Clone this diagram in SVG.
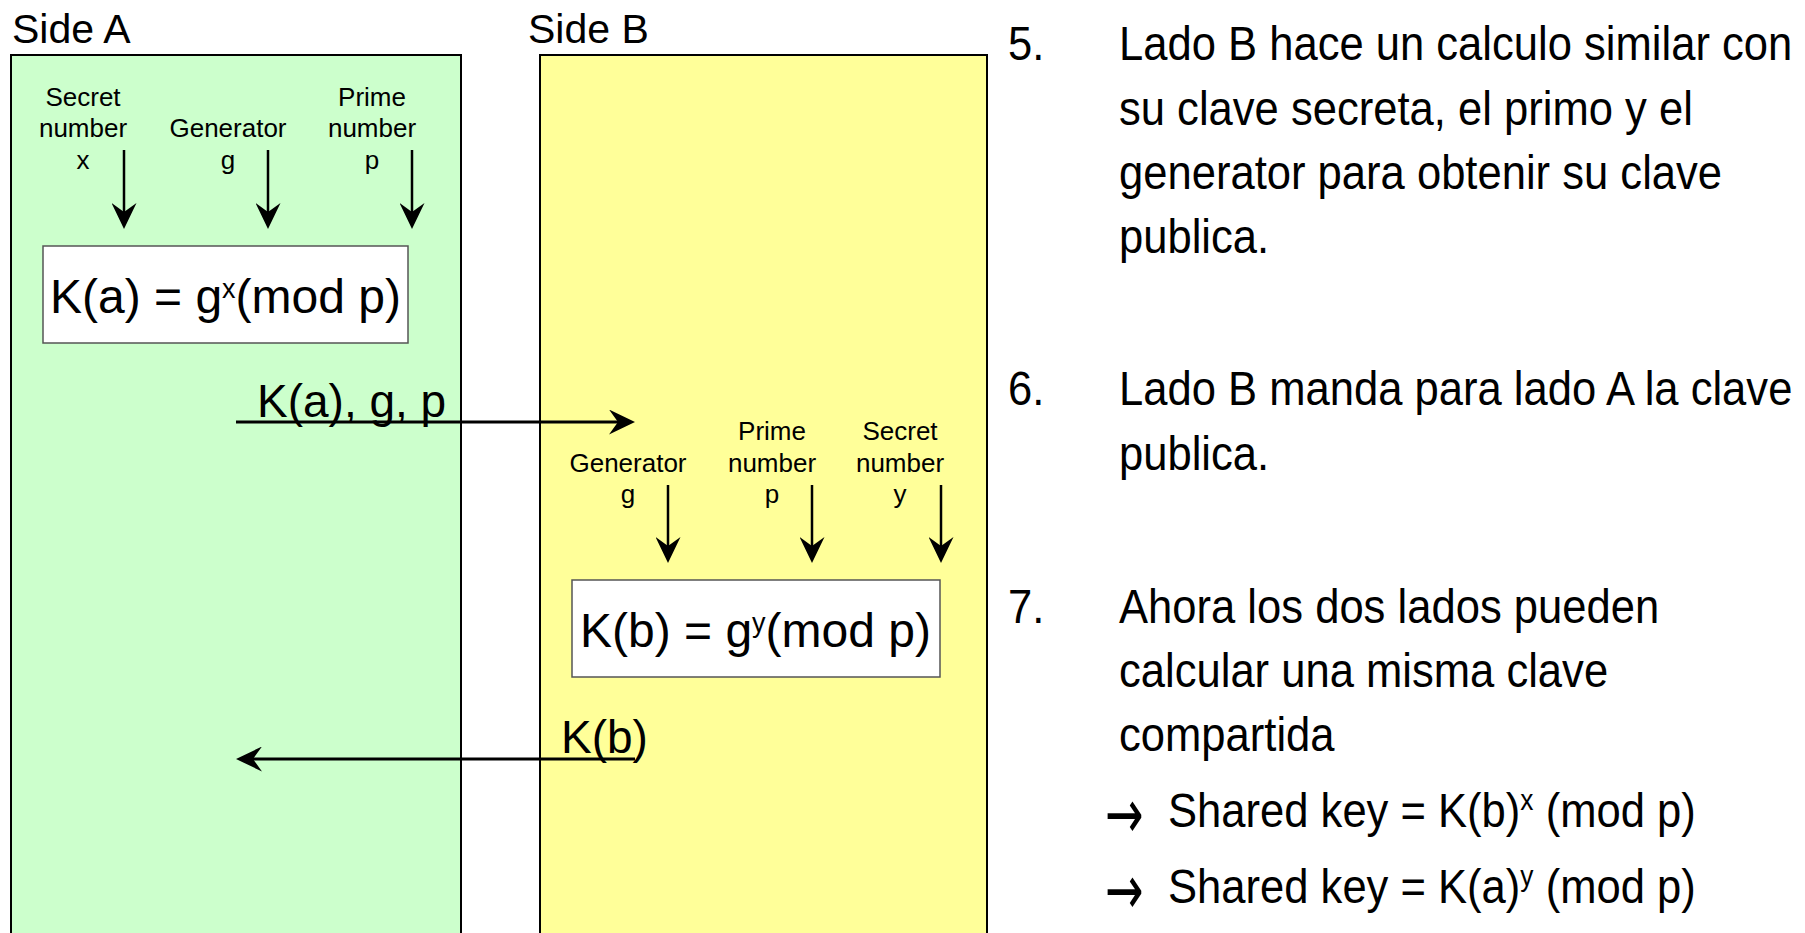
<svg xmlns="http://www.w3.org/2000/svg" width="1805" height="933" viewBox="0 0 1805 933">
<style>
text{font-family:"Liberation Sans",Arial,sans-serif;fill:#000}
.title{font-size:41px}
.lbl{font-size:26px;text-anchor:middle}
.formula{font-size:48px}
.msg{font-size:46px}
.body{font-size:48px}
.bullet{font-family:"DejaVu Sans",sans-serif;font-size:46px}
.side{stroke:#000;stroke-width:2}
.fbox{fill:#fff;stroke:#555;stroke-width:1.5}
.arr{stroke:#000;stroke-width:2.5;fill:none;marker-end:url(#ah)}
.harr{stroke:#000;stroke-width:3;fill:none;marker-end:url(#ah)}
</style>
<defs>
<marker id="ah" viewBox="0 0 26 25" markerWidth="26" markerHeight="25" refX="9" refY="12.5" markerUnits="userSpaceOnUse" orient="auto">
<path d="M0,0 L26,12.5 L0,25 L9,12.5 Z" fill="#000"/>
</marker>
</defs>
<rect width="1805" height="933" fill="#fff"/>

<g id="sideA">
<rect class="side" x="11" y="55" width="450" height="900" fill="#CCFFCC"/>
<text class="title" x="12" y="43">Side A</text>
<text class="lbl" x="83" y="106">Secret</text>
<text class="lbl" x="83" y="137">number</text>
<text class="lbl" x="83" y="169">x</text>
<text class="lbl" x="228" y="137">Generator</text>
<text class="lbl" x="228" y="169">g</text>
<text class="lbl" x="372" y="106">Prime</text>
<text class="lbl" x="372" y="137">number</text>
<text class="lbl" x="372" y="169">p</text>
</g>

<g id="formulaA">
<rect class="fbox" x="43" y="246" width="365" height="97"/>
<text class="formula" x="50" y="313">K(a) = g<tspan font-size="27" dy="-15">x</tspan><tspan dy="15">(mod p)</tspan></text>
</g>

<g id="sideB">
<rect class="side" x="540" y="55" width="447" height="900" fill="#FFFF99"/>
<text class="title" x="528" y="43">Side B</text>
<text class="lbl" x="628" y="472">Generator</text>
<text class="lbl" x="628" y="503">g</text>
<text class="lbl" x="772" y="440">Prime</text>
<text class="lbl" x="772" y="472">number</text>
<text class="lbl" x="772" y="503">p</text>
<text class="lbl" x="900" y="440">Secret</text>
<text class="lbl" x="900" y="472">number</text>
<text class="lbl" x="900" y="503">y</text>
</g>

<g id="formulaB">
<rect class="fbox" x="572" y="580" width="368" height="97"/>
<text class="formula" x="580" y="647">K(b) = g<tspan font-size="27" dy="-15">y</tspan><tspan dy="15">(mod p)</tspan></text>
</g>

<g id="connectors">
<line class="arr" x1="124" y1="150" x2="124" y2="212"/>
<line class="arr" x1="268" y1="150" x2="268" y2="212"/>
<line class="arr" x1="412" y1="150" x2="412" y2="212"/>
<line class="arr" x1="668" y1="485" x2="668" y2="546"/>
<line class="arr" x1="812" y1="485" x2="812" y2="546"/>
<line class="arr" x1="941" y1="485" x2="941" y2="546"/>
<line class="harr" x1="236" y1="422" x2="618" y2="422"/>
<line class="harr" x1="635" y1="759" x2="253" y2="759"/>
<text class="msg" x="257" y="417">K(a), g, p</text>
<text class="msg" x="561" y="753">K(b)</text>
</g>

<g id="notes">
<g transform="translate(1008,60) scale(0.908,1)"><text class="body">5.</text></g>
<g transform="translate(1119,60) scale(0.908,1)"><text class="body">Lado B hace un calculo similar con</text></g>
<g transform="translate(1119,125) scale(0.908,1)"><text class="body">su clave secreta, el primo y el</text></g>
<g transform="translate(1119,189) scale(0.908,1)"><text class="body">generator para obtenir su clave</text></g>
<g transform="translate(1119,253) scale(0.908,1)"><text class="body">publica.</text></g>

<g transform="translate(1008,405) scale(0.908,1)"><text class="body">6.</text></g>
<g transform="translate(1119,405) scale(0.908,1)"><text class="body">Lado B manda para lado A la clave</text></g>
<g transform="translate(1119,470) scale(0.908,1)"><text class="body">publica.</text></g>

<g transform="translate(1008,623) scale(0.908,1)"><text class="body">7.</text></g>
<g transform="translate(1119,623) scale(0.908,1)"><text class="body">Ahora los dos lados pueden</text></g>
<g transform="translate(1119,687) scale(0.908,1)"><text class="body">calcular una misma clave</text></g>
<g transform="translate(1119,751) scale(0.908,1)"><text class="body">compartida</text></g>

<g transform="translate(1105,838) scale(1,1.5)"><text class="bullet">→</text></g>
<g transform="translate(1168,827) scale(0.908,1)"><text class="body">Shared key = K(b)<tspan font-size="29" dy="-17">x</tspan><tspan dy="17"> (mod p)</tspan></text></g>
<g transform="translate(1105,914) scale(1,1.5)"><text class="bullet">→</text></g>
<g transform="translate(1168,903) scale(0.908,1)"><text class="body">Shared key = K(a)<tspan font-size="29" dy="-17">y</tspan><tspan dy="17"> (mod p)</tspan></text></g>
</g>
</svg>
